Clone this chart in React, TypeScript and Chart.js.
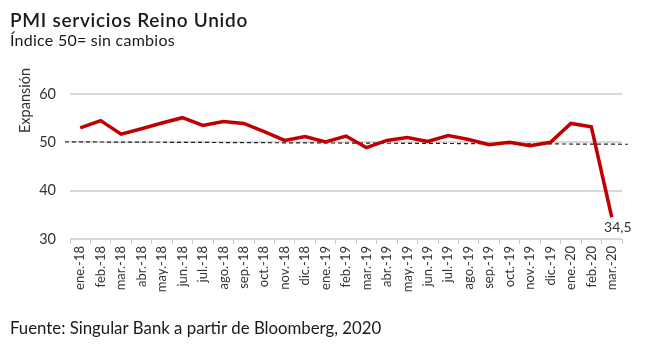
import React, { useEffect, useRef } from "react";
import { Chart, registerables } from "chart.js";

Chart.register(...registerables);

const categories = [
  "ene.-18", "feb.-18", "mar.-18", "abr.-18", "may.-18", "jun.-18", "jul.-18",
  "ago.-18", "sep.-18", "oct.-18", "nov.-18", "dic.-18", "ene.-19", "feb.-19",
  "mar.-19", "abr.-19", "may.-19", "jun.-19", "jul.-19", "ago.-19", "sep.-19",
  "oct.-19", "nov.-19", "dic.-19", "ene.-20", "feb.-20", "mar.-20",
];

const pmiServicios = [
  53.0, 54.5, 51.7, 52.8, 54.0, 55.1, 53.5, 54.3, 53.9, 52.2, 50.4, 51.2, 50.1,
  51.3, 48.9, 50.4, 51.0, 50.2, 51.4, 50.6, 49.5, 50.0, 49.3, 50.0, 53.9, 53.2,
  34.5,
];

const referenceLine = [50.1, 49.6];
const yTickRange = { min: 30, max: 60, step: 10 };

const titleText = "PMI servicios Reino Unido";
const subtitleText = "Índice 50= sin cambios";
const sourceText = "Fuente: Singular Bank a partir de Bloomberg, 2020";
const yAxisTitle = "Expansión";
const lastLabel = "34,5";

const FONT = "Lato, 'Open Sans', sans-serif";

const overlayPlugin = {
  id: "overlay",
  beforeDatasetsDraw(chart: any) {
    const { ctx, chartArea, scales } = chart;
    const y = scales.y;
    ctx.save();
    ctx.strokeStyle = "#222";
    ctx.lineWidth = 1.2;
    ctx.setLineDash([4, 3]);
    ctx.beginPath();
    ctx.moveTo(chartArea.left - 5, y.getPixelForValue(referenceLine[0]));
    ctx.lineTo(chartArea.right + 6, y.getPixelForValue(referenceLine[1]));
    ctx.stroke();
    ctx.restore();
  },
  afterDraw(chart: any) {
    const { ctx } = chart;
    ctx.save();
    ctx.fillStyle = "#1a1a1a";
    ctx.textBaseline = "alphabetic";
    ctx.textAlign = "left";
    ctx.font = `600 19px ${FONT}`;
    (ctx as any).letterSpacing = "0.7px";
    ctx.fillText(titleText, 10, 27);
    ctx.font = `16px ${FONT}`;
    (ctx as any).letterSpacing = "0.25px";
    ctx.fillText(subtitleText, 10, 46);
    ctx.font = `16.8px ${FONT}`;
    (ctx as any).letterSpacing = "0px";
    ctx.fillText(sourceText, 10, 334);

    // y axis title
    ctx.save();
    ctx.translate(30, 133);
    ctx.rotate(-Math.PI / 2);
    ctx.font = `14.5px ${FONT}`;
    ctx.fillStyle = "#333";
    ctx.fillText(yAxisTitle, 0, 0);
    ctx.restore();

    // last value label
    const meta = chart.getDatasetMeta(0);
    const pt = meta.data[meta.data.length - 1];
    ctx.font = `14px ${FONT}`;
    ctx.fillStyle = "#333";
    ctx.textAlign = "center";
    ctx.fillText(lastLabel, pt.x + 6, pt.y + 15);
    ctx.restore();
  },
};

export default function App() {
  const ref = useRef<HTMLCanvasElement>(null);
  useEffect(() => {
    if (!ref.current) return;
    const chart = new Chart(ref.current, {
      type: "line",
      data: {
        labels: categories,
        datasets: [
          {
            data: pmiServicios,
            borderColor: "#c00000",
            borderWidth: 3.5,
            pointRadius: 0,
            tension: 0,
            fill: false,
            clip: false as any,
          },
        ],
      },
      options: {
        animation: false,
        responsive: false,
        devicePixelRatio: 1,
        layout: { padding: { left: 0, right: 28, top: 94, bottom: 0 } },
        plugins: {
          legend: { display: false },
          tooltip: { enabled: false },
          title: { display: false },
        },
        scales: {
          x: {
            type: "category",
            offset: true,
            grid: {
              display: true,
              offset: true,
              drawOnChartArea: false,
              drawTicks: true,
              tickLength: 5,
              color: "#c8c8c8",
              lineWidth: 1,
            },
            border: { display: false },
            ticks: {
              autoSkip: false,
              minRotation: 90,
              maxRotation: 90,
              padding: 2,
              color: "#333",
              font: { family: FONT, size: 13 },
            },
            afterFit: (s: any) => {
              s.height = 112;
            },
          },
          y: {
            min: yTickRange.min,
            max: yTickRange.max,
            ticks: {
              stepSize: yTickRange.step,
              padding: 14,
              color: "#333",
              font: { family: FONT, size: 14.5 },
            },
            grid: { color: "#d9d9d9", lineWidth: 2, drawTicks: false },
            border: { display: false },
            afterFit: (s: any) => {
              s.width = 70;
            },
          },
        },
      },
      plugins: [overlayPlugin],
    });
    return () => chart.destroy();
  }, []);
  return (
    <div style={{ position: "absolute", left: 0, top: 0, width: 650, height: 351, background: "#fff" }}>
      <canvas ref={ref} width={650} height={351} />
    </div>
  );
}
